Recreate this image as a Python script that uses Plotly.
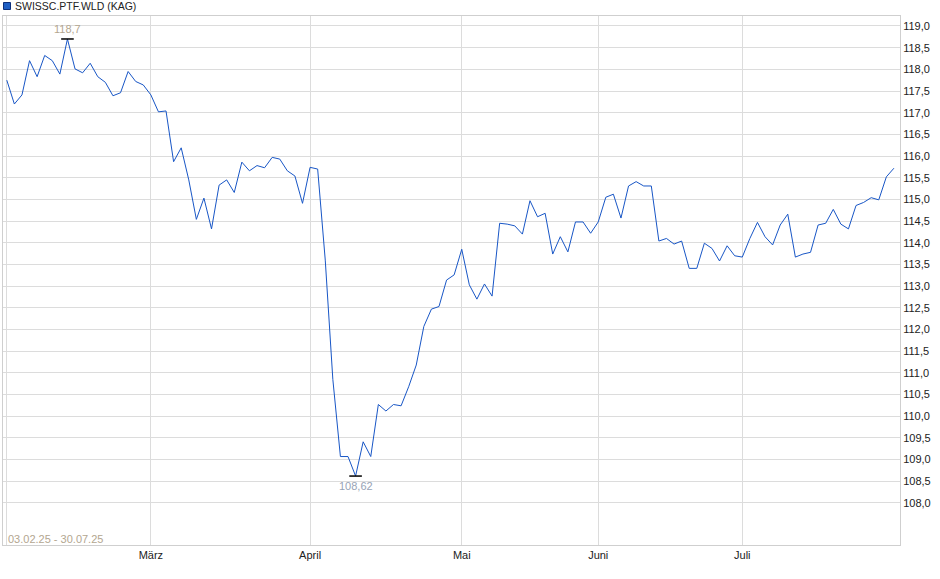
import plotly.graph_objects as go

# ---- data ----
series_name = "SWISSC.PTF.WLD (KAG)"
date_range_label = "03.02.25 - 30.07.25"

values_feb = [117.75, 117.20, 117.41, 118.20, 117.83, 118.32, 118.20, 117.89, 118.70, 118.01,
              117.92, 118.14, 117.83, 117.70, 117.39, 117.46, 117.95, 117.72, 117.64]
values_mar = [117.41, 117.02, 117.04, 115.87, 116.19, 115.45, 114.54, 115.03, 114.32, 115.33,
              115.45, 115.16, 115.86, 115.66, 115.78, 115.73, 115.97, 115.93, 115.66, 115.54, 114.91]
values_apr = [115.74, 115.70, 113.60, 110.85, 109.07, 109.07, 108.62, 109.41, 109.07, 110.27,
              110.12, 110.27, 110.24, 110.68, 111.18, 112.07, 112.47, 112.53, 113.14, 113.26]
values_may = [113.85, 113.03, 112.70, 113.05, 112.77, 114.45, 114.43, 114.39, 114.20, 114.97,
              114.60, 114.68, 113.74, 114.14, 113.79, 114.48, 114.48, 114.22]
values_jun = [114.48, 115.05, 115.12, 114.57, 115.31, 115.41, 115.31, 115.31, 114.04, 114.10,
              113.97, 114.04, 113.41, 113.41, 113.99, 113.87, 113.58, 113.93, 113.70]
values_jul = [113.67, 114.10, 114.47, 114.14, 113.95, 114.41, 114.66, 113.67, 113.74, 113.78,
              114.41, 114.45, 114.77, 114.43, 114.32, 114.86, 114.93, 115.04, 114.99, 115.52, 115.72]

month_labels = ["", "März", "April", "Mai", "Juni", "Juli"]
month_series = [values_feb, values_mar, values_apr, values_may, values_jun, values_jul]

y_tick_values = [108.0, 108.5, 109.0, 109.5, 110.0, 110.5, 111.0, 111.5, 112.0, 112.5, 113.0,
                 113.5, 114.0, 114.5, 115.0, 115.5, 116.0, 116.5, 117.0, 117.5, 118.0, 118.5, 119.0]

# ---- derived ----
values = [v for m in month_series for v in m]
x = list(range(len(values)))
month_start_idx = []
acc = 0
for m in month_series:
    month_start_idx.append(acc)
    acc += len(m)

imax = max(x, key=lambda i: values[i])
imin = min(x, key=lambda i: values[i])

def fmt(v):
    s = f"{v:.2f}".rstrip("0").rstrip(".")
    return s.replace(".", ",")

W, H = 940, 579
L, R, T, B = 3, 900, 16, 545  # plot area in pixels

FONT = "Liberation Sans, Arial, sans-serif"
LINE_BLUE = "#1856c6"
GRID = "#dcdcdc"

fig = go.Figure()
fig.add_trace(go.Scatter(
    x=x, y=values, mode="lines",
    line=dict(color=LINE_BLUE, width=1),
    hoverinfo="skip", showlegend=False,
))
fig.add_trace(go.Scatter(
    x=[imax, imin], y=[values[imax], values[imin]], mode="markers",
    marker=dict(symbol="line-ew-open", size=9, color="#000000",
                line=dict(color="#000000", width=1.5)),
    hoverinfo="skip", showlegend=False,
))

fig.add_annotation(x=imax, y=values[imax], text=fmt(values[imax]), showarrow=False,
                   yanchor="bottom", yshift=2, font=dict(family=FONT, size=11, color="#b3a690"))
fig.add_annotation(x=imin, y=values[imin], text=fmt(values[imin]), showarrow=False,
                   yanchor="top", yshift=-2, font=dict(family=FONT, size=11, color="#97a3b6"))

pw, ph = R - L, B - T
fig.add_annotation(xref="paper", yref="paper", x=(6 - L) / pw, y=(B - 539) / ph,
                   xanchor="left", yanchor="middle", text=date_range_label, showarrow=False,
                   font=dict(family=FONT, size=11, color="#b3a690"))

# legend: square + text at top-left
fig.add_shape(type="rect", xref="paper", yref="paper",
              x0=(3.5 - L) / pw, x1=(10.5 - L) / pw,
              y0=(B - 9.5) / ph, y1=(B - 2.5) / ph,
              fillcolor="#1f5fc4", line=dict(color="#0d2f7a", width=1))
fig.add_annotation(xref="paper", yref="paper", x=(13 - L) / pw, y=(B - 6) / ph,
                   xanchor="left", yanchor="middle", text=series_name, showarrow=False,
                   font=dict(family=FONT, size=10.5, color="#222222"))

fig.update_layout(
    width=W, height=H,
    margin=dict(l=L, r=W - R, t=T, b=H - B),
    paper_bgcolor="white", plot_bgcolor="white",
    separators=",.",
    font=dict(family=FONT, size=11, color="#333333"),
    xaxis=dict(
        range=[-0.5, len(values) - 1 + 0.8],
        tickvals=month_start_idx, ticktext=month_labels,
        showgrid=True, gridcolor=GRID, gridwidth=1,
        zeroline=False, showline=True, linecolor="#cfcfcf", mirror=True,
        ticks="",
        tickfont=dict(family=FONT, size=11, color="#222222"),
    ),
    yaxis=dict(
        side="right", range=[107.03, 119.23],
        tickvals=y_tick_values, tickformat=".1f",
        showgrid=True, gridcolor=GRID, gridwidth=1,
        zeroline=False, showline=True, linecolor="#cfcfcf", mirror=True,
        ticks="",
        tickfont=dict(family=FONT, size=11, color="#222222"),
    ),
)

fig.write_html("out.html", config={"displayModeBar": False},
               post_script="document.body.style.margin='0px';document.body.style.padding='0px';")
